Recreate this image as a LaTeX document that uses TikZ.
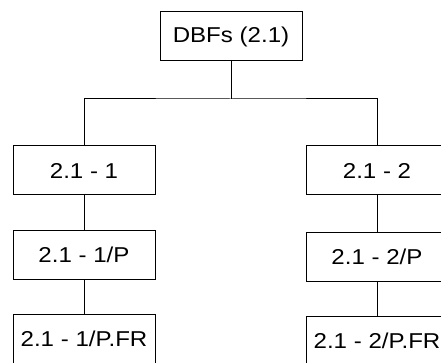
\documentclass[tikz,border=0pt]{standalone}
\usepackage{fontspec}
\setmainfont{Liberation Sans}[FakeStretch=1.12]
\begin{document}
\begin{tikzpicture}[x=1pt, y=1pt, node distance=84,
    box/.style={draw, line width=1pt, minimum width=142, minimum height=49, font=\fontsize{21.5}{26}\selectfont}]
        \useasboundingbox (0,0) rectangle (441,-363);
        \clip (0,0) rectangle (441,-363);
        \node[box] (dbf) at (231,-36.5) {DBFs (2.1)};
        \node[box] (a) at (84,-170.5) {2.1 - 1};
        \node[box, below of=a] (ap) {2.1 - 1/P};
        \node[box, below of=ap] (apfr) {2.1 - 1/P.FR};
        \node[box] (b) at (377,-170.5) {2.1 - 2};
        \node[box, below of=b, node distance=86] (bp) {2.1 - 2/P};
        \node[box, below of=bp] (bpfr) {2.1 - 2/P.FR};
        \coordinate (bar) at (231,-99);
        \draw[line width=1pt] (dbf) -- (bar);
        \draw[line width=1pt] (a) |- (bar) -| (b);
        \draw[line width=1pt] (a) -- (ap) -- (apfr);
        \draw[line width=1pt] (b) -- (bp) -- (bpfr);
      \end{tikzpicture}
\end{document}
